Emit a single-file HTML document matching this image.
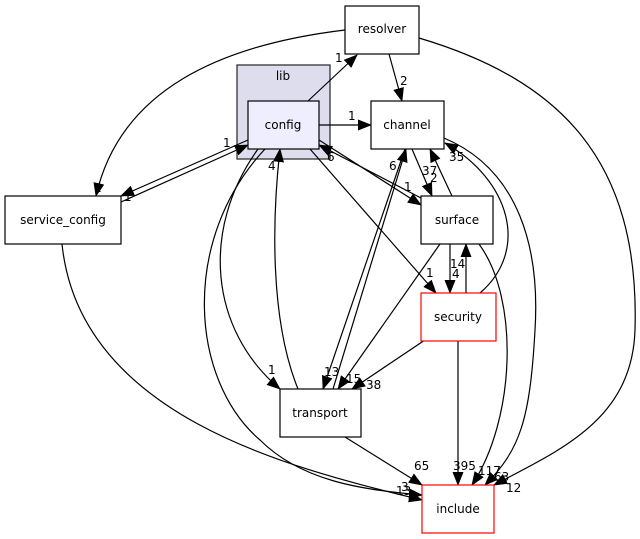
<!DOCTYPE html>
<html><head><meta charset="utf-8"><style>
html,body{margin:0;padding:0;background:#fff}
svg{display:block}
text{font-family:"DejaVu Sans","Liberation Sans",sans-serif;font-size:12px;fill:#000}
.n{font-size:13px}
</style></head><body>
<svg width="640" height="539" viewBox="0 0 640 539" xmlns="http://www.w3.org/2000/svg">
<defs><marker id="a" markerWidth="14" markerHeight="11" refX="13" refY="5.5" orient="auto" markerUnits="userSpaceOnUse"><path d="M0,0 L14,5.5 L0,11 Z" fill="#000"/></marker></defs>
<rect x="237" y="65" width="93" height="94" fill="#ddddee" stroke="#333" stroke-width="1.3"/>
<text x="283" y="80" text-anchor="middle">lib</text>
<g fill="none" stroke="#000" stroke-width="1.2" marker-end="url(#a)">
<path d="M308,101 L357,55"/>
<path d="M389,54 L402,101"/>
<path d="M319,125 L371,125"/>
<path d="M345,30 C220,45 120,90 96,196"/>
<path d="M419,38 C560,80 640,160 635,330 C632,420 560,450 494,485"/>
<path d="M248,140 L121,196"/>
<path d="M121,202 L248,145"/>
<path d="M258,149 C200,230 210,330 280,389"/>
<path d="M298,389 C270,320 272,220 280,149"/>
<path d="M265,149 C180,240 190,380 260,440 C300,480 360,490 422,495"/>
<path d="M62,244 C80,420 300,470 422,500"/>
<path d="M319,140 L421,205"/>
<path d="M421,198 L319,145"/>
<path d="M310,149 L436,293"/>
<path d="M412,149 L432,196"/>
<path d="M452,196 L430,149"/>
<path d="M405,149 L323,389"/>
<path d="M333,389 L406,149"/>
<path d="M440,244 L338,389"/>
<path d="M425,340 L352,389"/>
<path d="M450,244 L450,293"/>
<path d="M466,293 L466,244"/>
<path d="M480,293 C530,250 510,180 445,143"/>
<path d="M444,138 C520,170 540,250 535,330 C530,420 520,450 485,485"/>
<path d="M479,244 C520,300 515,420 472,485"/>
<path d="M458,341 L458,485"/>
<path d="M345,437 L422,485"/>
</g>
<g stroke="#000" stroke-width="1.2">
<rect x="345" y="6" width="74" height="48" fill="#fff"/>
<rect x="248" y="101" width="71" height="48" fill="#eeeeff"/>
<rect x="371" y="101" width="73" height="48" fill="#fff"/>
<rect x="5" y="196" width="116" height="48" fill="#fff"/>
<rect x="421" y="196" width="72" height="48" fill="#fff"/>
<rect x="280" y="389" width="81" height="48" fill="#fff"/>
</g>
<g stroke="#ff0000" stroke-width="1.2" fill="#fff">
<rect x="421" y="293" width="75" height="48"/>
<rect x="422" y="485" width="72" height="48"/>
</g>
<g class="n" text-anchor="middle">
<text x="382" y="33">resolver</text>
<text x="283" y="129">config</text>
<text x="407" y="129">channel</text>
<text x="63" y="224">service_config</text>
<text x="457" y="224">surface</text>
<text x="458" y="321">security</text>
<text x="320" y="417">transport</text>
<text x="458" y="513">include</text>
</g>
<g>
<text x="335" y="62">1</text><text x="400" y="85">2</text><text x="348" y="120">1</text>
<text x="94" y="192">1</text><text x="124" y="201">1</text><text x="223" y="147">1</text>
<text x="268" y="374">1</text><text x="268" y="170">4</text><text x="327" y="161">6</text>
<text x="404" y="191">1</text><text x="426" y="277">1</text><text x="389" y="170">6</text>
<text x="422" y="175">37</text><text x="430" y="182">2</text><text x="449" y="161">35</text>
<text x="324" y="376">13</text><text x="346" y="383">15</text><text x="366" y="389">38</text>
<text x="450" y="268">14</text><text x="452" y="278">4</text>
<text x="414" y="470">65</text><text x="453" y="470">395</text><text x="478" y="475">117</text>
<text x="494" y="481">63</text><text x="506" y="492">12</text><text x="396" y="495">13</text><text x="401" y="491">3</text>
</g>
</svg>
</body></html>
